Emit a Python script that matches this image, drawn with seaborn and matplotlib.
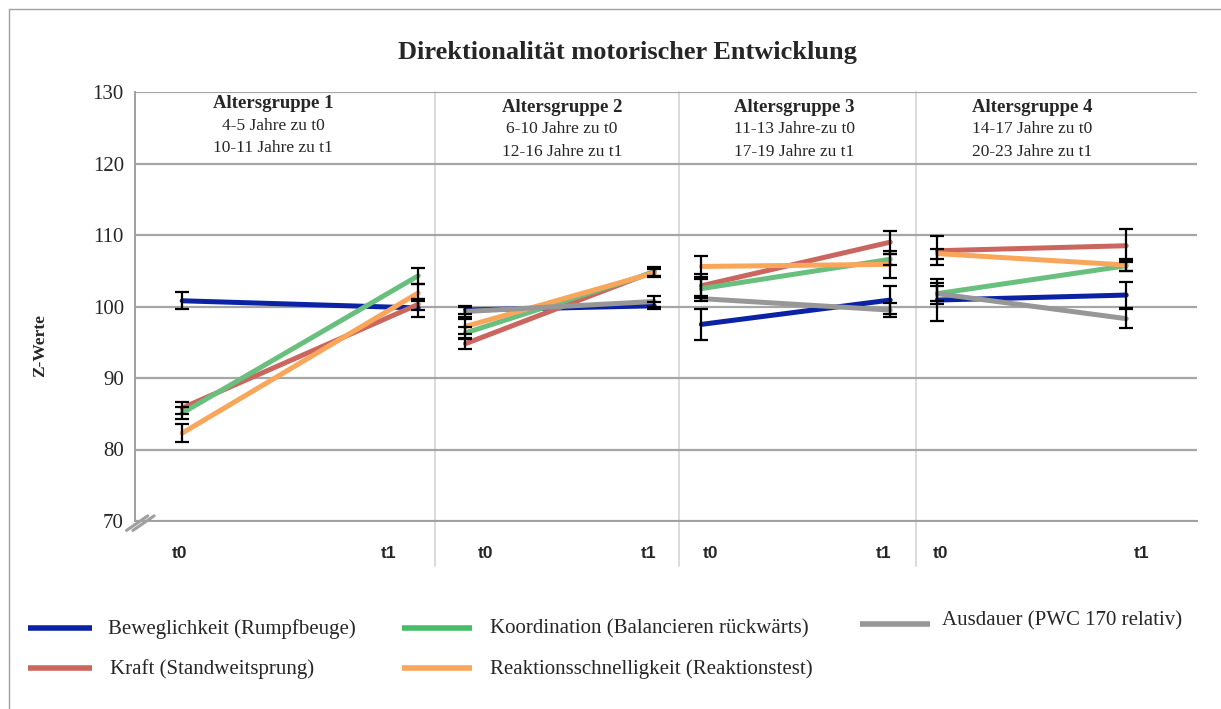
import numpy as np
import pandas as pd
import matplotlib
matplotlib.use("Agg")
import matplotlib.pyplot as plt
from matplotlib.lines import Line2D
import seaborn as sns

# ---- data -------------------------------------------------------------
measures = [
    "Beweglichkeit (Rumpfbeuge)",
    "Kraft (Standweitsprung)",
    "Koordination (Balancieren rückwärts)",
    "Reaktionsschnelligkeit (Reaktionstest)",
    "Ausdauer (PWC 170 relativ)",
]
groups = ["Altersgruppe 1", "Altersgruppe 2", "Altersgruppe 3", "Altersgruppe 4"]
group_ages_t0 = ["4-5 Jahre zu t0", "6-10 Jahre zu t0", "11-13 Jahre-zu t0", "14-17 Jahre zu t0"]
group_ages_t1 = ["10-11 Jahre zu t1", "12-16 Jahre zu t1", "17-19 Jahre zu t1", "20-23 Jahre zu t1"]
times = ["t0", "t1"]

# mean z-values, ordered (G1 t0, G1 t1, G2 t0, G2 t1, ...)
beweglichkeit = [100.8, 99.8, 99.5, 100.1, 97.5, 100.9, 100.9, 101.6]
kraft = [85.8, 100.3, 94.8, 104.9, 102.9, 109.0, 107.8, 108.5]
koordination = [85.1, 104.3, 96.3, 104.8, 102.5, 106.6, 101.8, 105.7]
reaktion = [82.3, 101.9, 97.2, 104.7, 105.6, 105.9, 107.4, 105.8]
ausdauer = [np.nan, np.nan, 99.3, 100.7, 101.1, 99.5, 101.8, 98.3]

# error bar half-widths
beweglichkeit_err = [1.2, 1.3, 0.5, 0.5, 2.2, 2.0, 2.9, 1.8]
kraft_err = [0.8, 0.8, 0.8, 0.6, 1.6, 1.6, 2.0, 2.3]
koordination_err = [0.8, 1.1, 0.9, 0.6, 1.3, 0.8, 1.1, 0.8]
reaktion_err = [1.2, 1.2, 1.0, 0.6, 1.5, 1.9, 0.7, 0.8]
ausdauer_err = [np.nan, np.nan, 0.8, 0.7, 0.3, 1.0, 1.5, 1.3]

y_ticks = [70, 80, 90, 100, 110, 120, 130]

# ---- layout (axis units: 9 equal category slots) ----------------------
point_x = [[0.40, 2.40], [2.80, 4.40], [4.80, 6.40], [6.80, 8.40]]
label_x = [[0.38, 2.15], [2.97, 4.35], [4.88, 6.34], [6.83, 8.53]]
separators = [2.54, 4.61, 6.62]
header_x = [1.17, 3.62, 5.59, 7.60]

colors = {
    measures[0]: "#0a22a3",
    measures[1]: "#cb665f",
    measures[2]: "#69c07e",
    measures[3]: "#f9a65a",
    measures[4]: "#979797",
}
legend_colors = dict(colors)
legend_colors[measures[2]] = "#47bd67"

means = [beweglichkeit, kraft, koordination, reaktion, ausdauer]
errs = [beweglichkeit_err, kraft_err, koordination_err, reaktion_err, ausdauer_err]

rows = []
for m, vals, ev in zip(measures, means, errs):
    for gi, g in enumerate(groups):
        for ti, t in enumerate(times):
            k = gi * 2 + ti
            rows.append(dict(measure=m, group=g, time=t, x=point_x[gi][ti],
                             value=vals[k], err=ev[k]))
df = pd.DataFrame(rows).dropna(subset=["value"])

# ---- figure -----------------------------------------------------------
sns.set_theme(style="white")
serif = ["Liberation Serif", "DejaVu Serif"]
plt.rcParams["font.family"] = serif

W, H = 1221, 709
fig = plt.figure(figsize=(W / 100, H / 100), dpi=100)
ax = fig.add_axes([135 / W, 1 - 521 / H, 1062 / W, 429 / H])

# outer frame (left and top edges)
fig.add_artist(Line2D([8.5 / W, 8.5 / W, 1.0], [0.0, 1 - 9 / H, 1 - 9 / H],
                      transform=fig.transFigure, color="#a0a0a0", linewidth=1.0))

ax.set_xlim(0, 9)
ax.set_ylim(70, 130)
ax.set_yticks(y_ticks)
ax.set_yticklabels([str(v) for v in y_ticks], fontsize=15, family=serif)
ax.set_xticks(range(10))
ax.set_xticklabels([])
ax.tick_params(axis="both", direction="out", length=5, width=1.2, color="#a0a0a0", pad=3)
ax.yaxis.grid(True, color="#a6a6a6", linewidth=1.6)
ax.xaxis.grid(False)
for s in ["top", "right"]:
    ax.spines[s].set_visible(False)
for s in ["left", "bottom"]:
    ax.spines[s].set_color("#a0a0a0")
    ax.spines[s].set_linewidth(1.4)

# group separators
for sx in separators:
    ax.plot([sx, sx], [1.0, -0.105], transform=ax.get_xaxis_transform(),
            color="#dadada", linewidth=1.4, clip_on=False, zorder=0)

# lines (one unit per age group so segments stay within a group)
sns.lineplot(data=df, x="x", y="value", hue="measure", units="group", estimator=None,
             palette=colors, hue_order=measures, linewidth=3.6, legend=False,
             ax=ax, zorder=3, sort=True)

# error bars
for _, r in df.iterrows():
    ax.errorbar(r["x"], r["value"], yerr=r["err"], fmt="none", ecolor="black",
                elinewidth=1.6, capsize=5, capthick=1.6, zorder=4)

ax.set_xlabel("")
ax.set_ylabel("Z-Werte", fontsize=12.5, fontweight="bold", family=serif)
ax.yaxis.set_label_coords(-0.082, 0.41)

# group headers
header_y = [(128.4, 125.2, 122.1), (127.9, 124.8, 121.6), (127.9, 124.8, 121.6), (127.9, 124.8, 121.6)]
for gi in range(4):
    y1, y2, y3 = header_y[gi]
    ax.text(header_x[gi], y1, groups[gi], ha="center", va="center", fontsize=13.5,
            fontweight="bold", family=serif)
    ax.text(header_x[gi], y2, group_ages_t0[gi], ha="center", va="center", fontsize=12.5,
            family=serif)
    ax.text(header_x[gi], y3, group_ages_t1[gi], ha="center", va="center", fontsize=12.5,
            family=serif)

# time labels below the axis
sans_narrow = ["Liberation Sans Narrow", "Liberation Sans", "DejaVu Sans"]
for gi in range(4):
    for ti, t in enumerate(times):
        ax.text(label_x[gi][ti], -0.075, t, transform=ax.get_xaxis_transform(),
                ha="center", va="center", fontsize=12.5, fontweight="bold", family=sans_narrow)

# axis break marker
for dx in (0.0, 0.006):
    ax.plot([-0.008 + dx, 0.012 + dx], [-0.022, 0.012], transform=ax.transAxes,
            color="#a0a0a0", linewidth=2.2, clip_on=False, zorder=6)

# title
fig.text(627 / W, 1 - 53 / H, "Direktionalität motorischer Entwicklung", ha="center",
         va="center", fontsize=19, fontweight="bold", family=serif)

# legend drawn as figure artists
legend_items = [
    (measures[0], 28, 92, 628, 108),
    (measures[2], 402, 472, 628, 490),
    (measures[4], 860, 930, 624, 942),
    (measures[1], 28, 92, 668, 110),
    (measures[3], 402, 472, 668, 490),
]
for m, x0, x1, yy, tx in legend_items:
    fig.add_artist(Line2D([x0 / W, x1 / W], [1 - yy / H, 1 - yy / H], transform=fig.transFigure,
                          color=legend_colors[m], linewidth=4.0, solid_capstyle="butt"))
    ty = yy - 4 if m == measures[4] else yy
    fig.text(tx / W, 1 - (ty + 1) / H, m, ha="left", va="center", fontsize=15, family=serif)

fig.savefig("out.png", dpi=100)
